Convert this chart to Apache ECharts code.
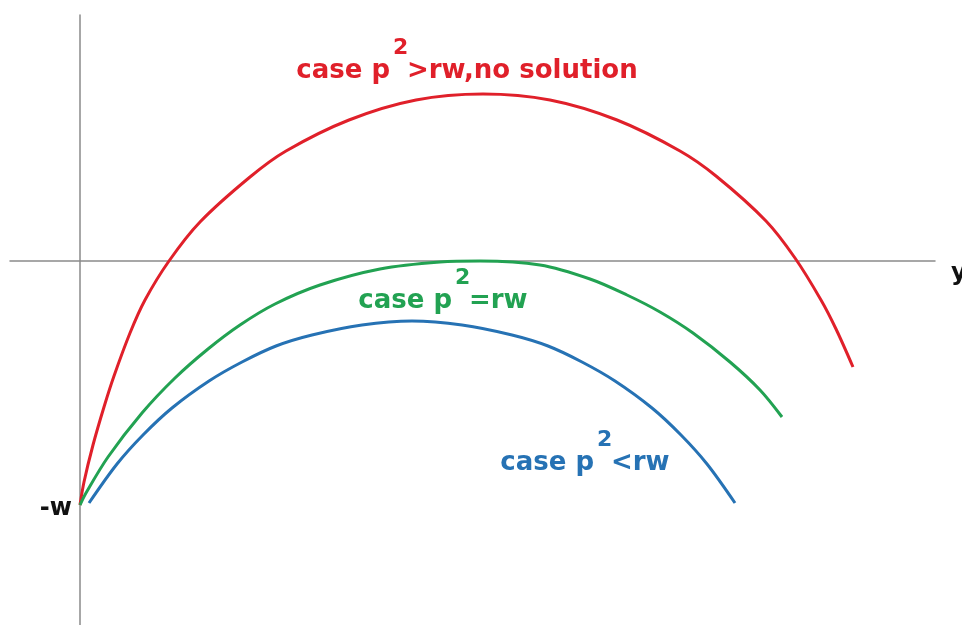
<!DOCTYPE html>
<html>
<head>
<meta charset="utf-8">
<script src="https://cdn.jsdelivr.net/npm/echarts@6/dist/echarts.min.js"></script>
<style>
    html, body { margin: 0; padding: 0; background: #fff; }
    #chart { width: 962px; height: 625px; }
</style>
</head>
<body>
<div id="chart"></div>
<script>
// curve samples, [x, y] with the origin where the axes cross
const redCurve = [
    [0, -2.44], [0.04, -2.21], [0.13, -1.84], [0.24, -1.46], [0.34, -1.15],
    [0.50, -0.72], [0.65, -0.39], [0.89, 0], [1.20, 0.39], [1.70, 0.84],
    [2.06, 1.10], [2.69, 1.41], [3.36, 1.61], [4.03, 1.67], [4.70, 1.61],
    [5.37, 1.41], [6.00, 1.10], [6.36, 0.85], [6.86, 0.40], [7.15, 0.03],
    [7.41, -0.39], [7.56, -0.68], [7.73, -1.06]
];
const greenCurve = [
    [0, -2.44], [0.06, -2.32], [0.28, -1.96], [0.62, -1.52], [0.95, -1.17],
    [1.28, -0.88], [1.60, -0.64], [1.95, -0.43], [2.40, -0.24], [3.00, -0.08],
    [3.60, -0.01], [4.00, 0], [4.60, -0.04], [5.10, -0.18], [5.47, -0.34],
    [5.80, -0.51], [6.13, -0.72], [6.50, -1.01], [6.80, -1.29], [7.02, -1.56]
];
const blueCurve = [
    [0.09, -2.42], [0.37, -2.03], [0.63, -1.74], [0.92, -1.47], [1.29, -1.20],
    [1.62, -1.01], [1.96, -0.85], [2.32, -0.74], [2.82, -0.64], [3.32, -0.60],
    [3.82, -0.64], [4.32, -0.74], [4.68, -0.85], [5.02, -1.01], [5.35, -1.20],
    [5.72, -1.47], [6.01, -1.74], [6.27, -2.03], [6.55, -2.42]
];

const RED = "#e0202a";
const GREEN = "#22a252";
const BLUE = "#2672b4";
const font = "DejaVu Sans";

// one "case p² ..." label made of three text pieces
function caseLabel(x, y, rest, color) {
    const base = { fontFamily: font, fontWeight: "bold", fill: color };
    return [
        { type: "text", x: x, y: y, style: Object.assign({ text: "case p", fontSize: 26, textAlign: "right", textVerticalAlign: "bottom" }, base) },
        { type: "text", x: x + 3, y: y - 25, style: Object.assign({ text: "2", fontSize: 22, textAlign: "left", textVerticalAlign: "bottom" }, base) },
        { type: "text", x: x + 17, y: y, style: Object.assign({ text: rest, fontSize: 26, textAlign: "left", textVerticalAlign: "bottom" }, base) }
    ];
}

const chart = echarts.init(document.getElementById("chart"));

function line(data, color) {
    return {
        type: "line",
        data: data,
        symbol: "none",
        smooth: 0.33,
        lineStyle: { color: color, width: 3 },
        silent: true
    };
}

chart.setOption({
    backgroundColor: "#fff",
    animation: false,
    grid: { left: 10, right: 27, top: 15, bottom: 0 },
    xAxis: {
        type: "value",
        min: -0.7,
        max: 8.55,
        axisLine: { onZero: true, lineStyle: { color: "#8a8a8a", width: 1.5 } },
        axisTick: { show: false },
        axisLabel: { show: false },
        splitLine: { show: false }
    },
    yAxis: {
        type: "value",
        min: -3.64,
        max: 2.46,
        axisLine: { onZero: true, lineStyle: { color: "#8a8a8a", width: 1.5 } },
        axisTick: { show: false },
        axisLabel: { show: false },
        splitLine: { show: false }
    },
    graphic: [
        { type: "text", x: 951, y: 262, style: { text: "y", fontFamily: font, fontWeight: "bold", fontSize: 24, fill: "#111" } },
        { type: "text", x: 72, y: 509, style: { text: "-w", fontFamily: font, fontWeight: "bold", fontSize: 24, fill: "#111", textAlign: "right", textVerticalAlign: "middle" } }
    ]
        .concat(caseLabel(390, 84, ">rw,no solution", RED))
        .concat(caseLabel(452, 314, "=rw", GREEN))
        .concat(caseLabel(594, 476, "<rw", BLUE)),
    series: [
        line(redCurve, RED),
        line(greenCurve, GREEN),
        line(blueCurve, BLUE)
    ]
});
</script>
</body>
</html>
